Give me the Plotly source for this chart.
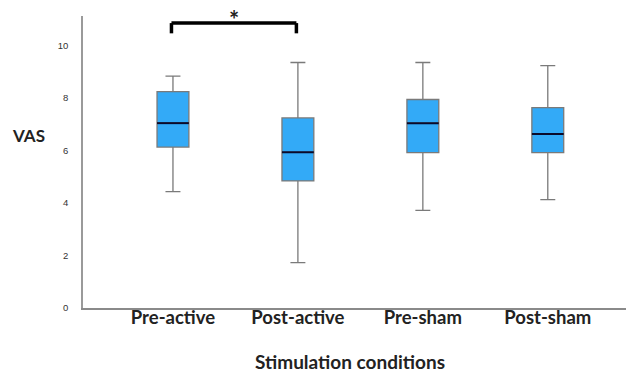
import plotly.graph_objects as go

categories = ["Pre-active", "Post-active", "Pre-sham", "Post-sham"]
lower_whisker = [4.43, 1.73, 3.72, 4.13]
q1_values = [6.13, 4.84, 5.92, 5.92]
median_values = [7.04, 5.93, 7.04, 6.63]
q3_values = [8.24, 7.24, 7.94, 7.63]
upper_whisker = [8.83, 9.35, 9.35, 9.23]
y_ticks = [0, 2, 4, 6, 8, 10]
sig_pair = ["Pre-active", "Post-active"]
sig_top = 10.85
sig_drop = 10.46
sig_label = "*"

box_w = 0.255

fig = go.Figure()
fig.add_trace(go.Box(
    x=categories,
    q1=q1_values, median=median_values, q3=q3_values,
    lowerfence=lower_whisker, upperfence=upper_whisker,
    fillcolor="#33aaf7",
    line=dict(color="#7a7a7a", width=1.3),
    width=box_w,
    whiskerwidth=0.47,
    boxpoints=False,
    hoverinfo="skip",
    showlegend=False,
))
for i, m in enumerate(median_values):
    fig.add_shape(type="line", xref="x", yref="y",
                  x0=i - box_w / 2, x1=i + box_w / 2, y0=m, y1=m,
                  line=dict(color="#0a0a2a", width=2))

i0 = categories.index(sig_pair[0])
i1 = categories.index(sig_pair[1])
bk = dict(color="black", width=3.5)
fig.add_shape(type="line", xref="x", yref="y", x0=i0 - 0.012, x1=i1 - 0.012, y0=sig_top, y1=sig_top, line=bk)
fig.add_shape(type="line", xref="x", yref="y", x0=i0 - 0.012, x1=i0 - 0.012, y0=sig_drop, y1=sig_top, line=bk)
fig.add_shape(type="line", xref="x", yref="y", x0=i1 - 0.012, x1=i1 - 0.012, y0=sig_drop, y1=sig_top, line=bk)
fig.add_annotation(x=(i0 + i1) / 2 - 0.012, y=sig_top, xref="x", yref="y", text="<b>" + sig_label + "</b>",
                   showarrow=False, yanchor="bottom", yshift=-13,
                   font=dict(family="Lato", size=24, color="#222"))

fig.add_annotation(x=-0.0, y=0.59, xref="paper", yref="paper", text="<b>VAS</b>",
                   xanchor="center", xshift=-55,
                   showarrow=False, font=dict(family="Lato", size=17, color="#222"))
fig.add_annotation(xref="paper", yref="paper", x=0.485, y=0, yanchor="middle", yshift=-53,
                   text="<b>Stimulation conditions</b>", showarrow=False,
                   font=dict(family="Lato", size=19, color="#222"))

fig.update_layout(
    width=626, height=364,
    margin=dict(l=75, r=0, t=8, b=64),
    plot_bgcolor="white", paper_bgcolor="white",
    xaxis=dict(type="category", range=[-0.72, 3.69], showgrid=False,
               showline=True, linecolor="#8a8a8a", linewidth=1.5,
               ticks="", tickfont=dict(family="Lato", size=18.5, color="#222"),
               tickprefix="<b>", ticksuffix="</b>", zeroline=False,
               ticklabelstandoff=-8),
    yaxis=dict(range=[0, 11.12], tickvals=y_ticks, showgrid=False,
               showline=True, linecolor="#9a9a9a", linewidth=1.5,
               ticks="", tickfont=dict(family="Arial", size=9.5, color="#333"),
               ticklabelstandoff=11, zeroline=False),
)

fig.write_html("out.html")
